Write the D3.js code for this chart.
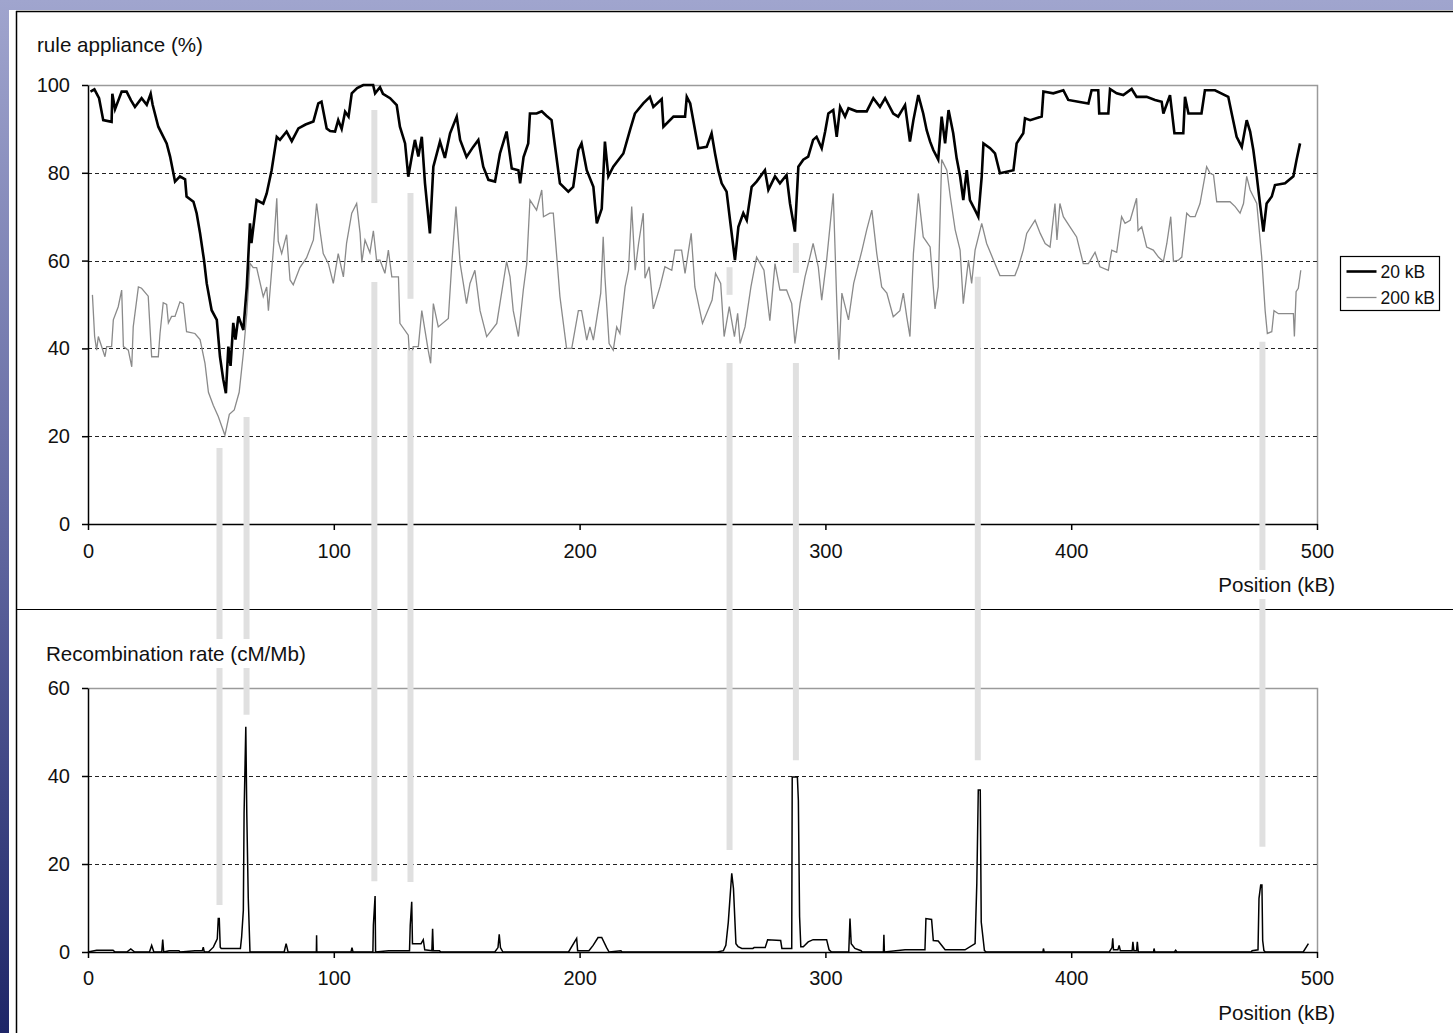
<!DOCTYPE html>
<html>
<head>
<meta charset="utf-8">
<script src="https://cdn.jsdelivr.net/npm/d3@7"></script>
<style>
  body { margin: 0; background: #fff; }
  svg { display: block; }
  text { font-family: "Liberation Sans", Arial, sans-serif; fill: #111; }
</style>
</head>
<body>
<svg id="fig" width="1453" height="1033"></svg>
<script>
// ---- data ----
var ticksX = [0, 100, 200, 300, 400, 500];
var ticksTop = [0, 20, 40, 60, 80, 100];
var ticksBot = [0, 20, 40, 60];
var gridTop = [20, 40, 60, 80];
var gridBot = [20, 40];

// rule appliance, 20 kB window (position kB, %)
var pos20 = [1, 2.6, 4.5, 6.2, 9.6, 9.9, 11, 13.7, 15.7, 17.5, 19.1, 21.8, 23.9, 25.5, 26.3, 28.6, 32, 33.4, 35.4, 37.4, 39.5, 40.1, 42.9, 44.2, 45.6, 47.2, 48.3, 50.3, 52.4, 53.7, 55, 56.1, 57.1, 58, 59.1, 60, 61.2, 63.2, 64.6, 65.9, 66.5, 68.6, 71.3, 72.7, 74.7, 76.8, 78.1, 80.8, 82.9, 85.6, 88.5, 91.7, 93.7, 95, 97.1, 98.5, 100.5, 101.8, 103.2, 104.6, 106, 107.3, 109.5, 112, 116, 116.8, 118.8, 120, 122.9, 125.6, 126.9, 129, 130.3, 131.7, 133, 134.4, 135.8, 137.1, 139.1, 140.5, 143.2, 145.2, 147.3, 150, 151.4, 154, 156.7, 158.8, 160.8, 162.9, 165.6, 167.6, 170.3, 172.4, 175.1, 175.8, 177.2, 179.1, 179.8, 182.5, 184.6, 186.5, 188.6, 189.3, 192, 195.4, 197.4, 199.5, 200.8, 202.9, 205.6, 207, 209, 210.3, 211.7, 213.7, 217.8, 220.5, 222.5, 225.9, 228.6, 230, 233.4, 234.1, 238.2, 242.9, 243.6, 245, 248.3, 251.7, 253.7, 255.1, 256.4, 257.8, 259.8, 261.2, 263.2, 264.6, 266.6, 268, 270, 272, 275.4, 276.8, 279.5, 281.5, 284.2, 285.6, 287.6, 289, 291, 293, 295, 296.4, 298.5, 299.9, 301.2, 303.2, 304.6, 306, 308, 309.4, 312.7, 316.8, 319.5, 322.2, 324.3, 327.6, 329.6, 332.4, 334.4, 335.8, 337.8, 339.8, 341.2, 342.6, 343.9, 345.9, 347.3, 348.7, 350.1, 352, 353.4, 354.8, 356.1, 357.5, 358.8, 360.9, 362.2, 363.6, 364.3, 367, 369, 371, 376.5, 377.8, 380.5, 381.2, 383.3, 388, 388.7, 392.7, 396.8, 398.8, 402.9, 407, 408.3, 411, 411.4, 415.1, 415.8, 418.5, 421.2, 424.6, 426.6, 430.7, 434.1, 436.8, 437.5, 440.2, 442, 445.6, 446.3, 447.7, 453, 454.4, 458.5, 463.9, 465.3, 467.3, 469.4, 471.4, 472.8, 474.1, 475.5, 476.8, 478.2, 479.5, 481.6, 482.9, 487, 490.4, 491.7, 493.1];
var val20 = [98.5, 99, 97, 92, 91.6, 98, 94.5, 98.5, 98.5, 96.5, 95, 97, 95.5, 98, 95.5, 90.5, 86.7, 83.7, 78, 79.2, 78.5, 74.6, 73.4, 70.8, 66.2, 60.1, 54.8, 48.7, 46.5, 38.1, 33, 29.8, 40.4, 36, 45.8, 42, 47.3, 44.2, 54, 68.5, 64, 73.8, 73, 75.3, 80.6, 88.2, 87.5, 89.4, 87.2, 90.1, 91, 91.7, 95.8, 96.2, 90.1, 89.5, 89.4, 92, 90, 93.9, 92.8, 98.1, 99.3, 100, 100, 98.1, 99.5, 98, 97, 95.4, 90.5, 86.7, 79.1, 83.6, 87.5, 83.7, 88.2, 77.6, 66.2, 81.4, 87.1, 83.4, 89, 92.8, 87.5, 83.6, 85.9, 87.5, 81.4, 78.4, 78, 84.4, 89.4, 81, 80.6, 77.6, 83.6, 86.7, 93.5, 93.5, 94, 93, 92, 89, 77.6, 75.7, 76.8, 85.2, 86.7, 80.6, 76.8, 68.5, 71.8, 87.1, 79.2, 81.4, 84.4, 89.7, 93.5, 95.8, 97.3, 95, 96.8, 90.5, 92.8, 92.8, 97.3, 95.8, 85.6, 85.9, 89, 84.4, 80.6, 77.6, 75.7, 69.2, 60.1, 67.7, 70.8, 69.2, 76.8, 78, 80.6, 76.1, 79.2, 77.6, 79.5, 73, 66.6, 81.4, 83, 83.7, 87.5, 88.2, 85.6, 89.4, 93.5, 94.3, 88.2, 95, 92.8, 94.7, 94, 94, 97, 95, 97, 93.5, 92.8, 95.4, 87.1, 92, 97.7, 93.5, 89.7, 87.1, 85.2, 83, 92.8, 86.7, 94.3, 89, 83.3, 79.2, 73.8, 80.6, 73.8, 71.5, 70, 79.2, 86.7, 85.6, 84.4, 79.9, 80.6, 86.7, 89, 92.4, 92, 92.8, 98.5, 98.1, 98.8, 96.6, 96.2, 95.8, 98.8, 98.8, 93.5, 93.5, 99.1, 98.1, 97.7, 99.1, 97.3, 97.3, 96.6, 96.2, 93.5, 97.7, 89, 89, 97.3, 93.5, 93.5, 98.8, 98.8, 97.3, 93.5, 88.2, 85.9, 92, 89.4, 85.2, 79.2, 73, 66.6, 73, 74.6, 77.2, 77.6, 79.2, 83, 86.7];

// rule appliance, 200 kB window (position kB, %)
var pos200 = [1.8, 2.7, 3.5, 4.2, 6.9, 7.6, 9.6, 10.3, 12.3, 13.7, 14.4, 16.4, 17.8, 18.4, 20.5, 21.8, 24.5, 25.9, 28.6, 29.3, 30.6, 32, 32.7, 34, 35.4, 37.4, 38.8, 40.1, 43.5, 45.6, 47.6, 49, 51, 53, 55.7, 57.5, 59.5, 61.5, 63.2, 64.6, 65.9, 67.2, 68.6, 71.3, 72.7, 73.4, 75.4, 76.8, 77.4, 78.8, 80.8, 82.2, 83.5, 86.2, 88.9, 91.7, 93, 94.4, 95.7, 97.8, 99.8, 101.8, 103.9, 105.2, 107.3, 109.3, 110.7, 111.4, 112.7, 114.7, 116.1, 117.4, 118.8, 120.8, 122.2, 123.6, 126.3, 126.9, 130.3, 131, 132.3, 134.4, 135.8, 137.1, 138.4, 139.4, 140.5, 142.5, 146.6, 148, 149.7, 151.4, 152.7, 154, 155.4, 157.4, 159.5, 162.2, 166.3, 170.3, 171.7, 173, 175.1, 177.1, 178.5, 179.8, 182.5, 184.6, 185.3, 187.9, 189.3, 192, 194.7, 196.8, 199.5, 200.8, 202.9, 204.2, 205.6, 208.6, 209.6, 210.3, 212, 213.7, 215.1, 216.4, 218.5, 219.9, 221.2, 222.6, 224, 225.9, 226.6, 228.3, 230, 232.7, 234.7, 237.5, 238.8, 241.5, 242.9, 245.4, 246.9, 250, 253.9, 255.3, 257.4, 258.8, 260.9, 263, 264.3, 265.3, 267.3, 269.7, 272, 275, 277.4, 279.5, 281.5, 284.2, 286.3, 287.6, 289.7, 291.7, 293.7, 295, 297.1, 298.5, 300.5, 303.2, 304.6, 305.5, 306.7, 309.4, 311.5, 314.9, 316.8, 318.9, 320.9, 322.9, 325, 327.6, 330.3, 331.7, 333.1, 334.4, 335.8, 337.8, 339.8, 342.6, 344.6, 345.9, 347.3, 349.4, 350.8, 352.8, 354.8, 356.1, 358.2, 359.5, 360.9, 363.6, 365.6, 368.4, 371, 377.1, 378.5, 380.5, 381.9, 385.3, 387.4, 389.4, 391.4, 393.4, 394.2, 395.4, 396.8, 399.5, 402.2, 404.9, 407, 409.7, 411.7, 415.1, 416.5, 418.5, 420.5, 421.9, 424, 426.6, 427.2, 428.7, 430.7, 433.4, 435.5, 437.5, 438.9, 440.5, 441.6, 443.6, 445, 447, 448.4, 450.4, 452.4, 455.1, 456.5, 457.9, 459.2, 464.6, 466.7, 468.7, 470.1, 471.4, 472.8, 474.1, 475.5, 477.5, 478.9, 479.8, 481.6, 482.5, 484.3, 490.4, 490.8, 491.5, 492.4, 493.4];
var val200 = [52.2, 42.7, 39.6, 42.7, 38.1, 40.4, 40.4, 46.5, 49.5, 53.3, 40.4, 39.6, 35.8, 44.9, 54, 53.7, 51.9, 38.1, 38.1, 43.4, 50.4, 50, 45.8, 47.3, 47.3, 50.6, 50.2, 43.8, 43.4, 42, 36.6, 30, 27, 24.5, 20.2, 25, 26, 30, 38.9, 48, 59.4, 58.4, 58.4, 51.8, 54, 48.6, 62.4, 74.2, 64.4, 61.6, 65.9, 55.6, 54.5, 58.4, 60.6, 64.7, 73, 66.8, 61.6, 59.3, 54.8, 61.6, 56.3, 64, 70.8, 73, 66.2, 59.6, 64.7, 61.8, 66.8, 60.1, 60.1, 57.1, 62.4, 56.3, 56.3, 45.7, 43, 36.6, 40.4, 40.4, 48.6, 44.1, 39.6, 36.6, 50.2, 44.9, 46.8, 59.3, 72.3, 59.3, 54.8, 50.2, 54.8, 57.8, 48.6, 42.7, 45.7, 59.8, 56.3, 48.6, 42.7, 53.3, 59.3, 73.8, 71.5, 76.1, 70, 70.8, 70.8, 51.8, 40, 40, 48.6, 48.6, 41.9, 44.9, 41.9, 52.6, 65.4, 56.3, 41.1, 39.6, 44.9, 43.4, 54, 57.8, 72.3, 57.8, 63.9, 70.8, 56, 58.6, 49, 54, 58.6, 57.8, 62.4, 62.4, 57.1, 66.2, 54, 45.7, 51, 57.1, 54.8, 42.7, 49.5, 42.7, 48, 41.1, 44.9, 54, 60.8, 57.8, 46.3, 59.3, 53.3, 53.3, 50.2, 41.1, 50.2, 56.3, 60.8, 63.9, 58.6, 51, 60.1, 75.3, 51, 37.4, 52.6, 46.5, 54.8, 62.4, 67, 71.5, 61.6, 54, 52.6, 47.2, 48.6, 52.6, 47.2, 42.7, 61.6, 75.3, 65.4, 63.1, 49, 54, 83, 80.6, 74.6, 67, 62.4, 50.2, 60.1, 54.8, 62.4, 68.5, 63.9, 60.1, 56.6, 56.6, 58.6, 62.4, 66.2, 69.2, 66.2, 63.9, 63.1, 73, 64.7, 73, 70, 67.7, 65.4, 59.3, 59.3, 61.9, 58.6, 57.8, 62.4, 61.9, 70, 68.5, 69.2, 74.2, 66.8, 67.7, 63.1, 62.4, 60.8, 59.8, 63.9, 70, 59.8, 60.1, 60.8, 70.8, 70, 70, 73, 81.4, 79.9, 79.5, 73.4, 73.4, 72.3, 70.8, 73, 79.2, 76.1, 74.6, 73, 60.8, 48.6, 43.4, 43.8, 48.6, 47.9, 47.9, 42.7, 52.9, 53.7, 57.8];

// recombination rate (position kB, cM/Mb)
var posRec = [0, 3.5, 10.2, 11, 15.8, 17.4, 19, 25, 25.9, 26.8, 30, 30.4, 30.8, 33, 37, 37.5, 43.5, 46.5, 46.9, 47.3, 49, 51, 52.6, 53, 53.4, 53.8, 54.2, 62, 62.5, 63.2, 63.5, 64.2, 64.6, 65.2, 65.9, 79.8, 80.6, 81.4, 92.9, 93, 93.1, 107, 107.4, 107.8, 115.9, 116.1, 116.8, 117, 122.3, 130.8, 131.1, 131.7, 132, 135.5, 136.4, 137, 139.9, 140.2, 140.5, 143, 143.5, 165.5, 166.8, 167.3, 167.8, 168.8, 195.5, 198.8, 199.2, 203.8, 205.5, 207.5, 209, 211, 212, 216.8, 217.3, 256, 258.5, 259.5, 260.5, 261.9, 262.6, 263.6, 264.5, 266, 270.5, 271, 275.5, 276.5, 281.8, 282.3, 286.3, 286.5, 288.6, 289, 289.5, 290, 291, 293, 295, 300.5, 301.5, 302.5, 309.5, 310, 310.5, 312, 314.5, 315, 323.6, 323.8, 324, 332.4, 340.5, 340.9, 343.2, 343.9, 345.9, 348.7, 356.8, 360.9, 361.6, 362.2, 363, 363.4, 364.7, 365.5, 388.5, 388.7, 389, 415.5, 416.6, 416.9, 417.2, 419, 419.5, 420, 424.8, 425.1, 425.5, 426.6, 426.9, 427.3, 433.5, 433.7, 434, 442, 442.5, 443, 473.2, 473.6, 476, 476.4, 477.1, 477.6, 477.9, 478.4, 479, 494.4, 496.5];
var valRec = [0, 0.4, 0.4, 0, 0, 0.7, 0, 0, 1.5, 0, 0, 2.8, 0, 0.3, 0.3, 0, 0.3, 0.3, 1.1, 0, 0, 1.1, 3, 7.6, 7.6, 1.1, 0.8, 0.8, 3.4, 9.5, 31.5, 51.2, 31.5, 12.2, 0, 0, 1.9, 0, 0, 3.8, 0, 0, 1, 0, 0, 6.1, 12.7, 0, 0.3, 0.3, 6.1, 11.4, 1.9, 1.9, 2.8, 0.5, 0.3, 5.3, 0.3, 0.3, 0, 0, 1, 4, 1, 0, 0, 3.1, 0.3, 0.3, 1.5, 3.3, 3.3, 1, 0, 0.3, 0, 0, 0.3, 1.5, 6.8, 17.9, 14.4, 1.9, 1.2, 0.8, 0.8, 1, 1, 2.8, 2.6, 0.8, 0.8, 39.8, 39.8, 34.5, 8, 1.2, 1.2, 2.3, 2.8, 2.8, 0.5, 0, 0, 7.6, 1.9, 0.8, 0.3, 0, 0, 3.9, 0, 0.5, 0.5, 7.6, 7.4, 2.6, 2.5, 0.5, 0.5, 1.9, 15.6, 36.8, 36.8, 6.8, 0.3, 0, 0, 0.8, 0, 0, 1, 3.1, 0.5, 0.5, 1.5, 0.3, 0.3, 2.3, 0.3, 0.3, 2.3, 0, 0, 0.8, 0, 0, 0.4, 0, 0, 0.3, 0.5, 12.2, 15.2, 15.2, 2.6, 0.3, 0, 0, 1.9];

// pale vertical markers linking dips to hot spots
var markerPos = [53.5, 64.5, 116.5, 131.2, 261, 288, 362, 477.8];
var markerTop = [17.3, 24.4, 94.3, 75.4, 58.5, 64, 56.3, 41.5];      // start, % scale
var markerGapFrom = [null, null, 73.1, 51.3, 52.2, 57.2, null, null];
var markerGapTo = [null, null, 55.1, 39.6, 36.7, 36.7, null, null];
var markerEnd = [10.7, 53.9, 16.1, 15.9, 23.2, 43.6, 43.6, 23.9];      // end, cM/Mb scale

var legendNames = ["20 kB", "200 kB"];

function makeSVG() {
    var svg = d3.select("#fig");
    var W = 1453, H = 1033;

    // slide background + picture frame
    var grad = svg.append("defs").append("linearGradient")
                  .attr("id", "bg").attr("x1", 0).attr("y1", 0).attr("x2", 0).attr("y2", 1);
    grad.append("stop").attr("offset", "0%").attr("stop-color", "#a0a5ce");
    grad.append("stop").attr("offset", "55%").attr("stop-color", "#5c629c");
    grad.append("stop").attr("offset", "100%").attr("stop-color", "#1e2668");
    svg.append("rect").attr("width", W).attr("height", H).attr("fill", "url(#bg)");
    svg.append("rect").attr("x", 9).attr("y", 10).attr("width", W).attr("height", H).attr("fill", "#fff");
    svg.append("line").attr("x1", 16.5).attr("x2", 16.5).attr("y1", 11).attr("y2", H)
       .attr("stroke", "#000").attr("stroke-width", 1.5);
    svg.append("line").attr("x1", 16).attr("x2", W).attr("y1", 11.5).attr("y2", 11.5)
       .attr("stroke", "#000").attr("stroke-width", 1.5);
    svg.append("line").attr("x1", 16).attr("x2", W).attr("y1", 609.5).attr("y2", 609.5)
       .attr("stroke", "#000").attr("stroke-width", 1.2);

    var xSc = d3.scaleLinear().domain([0, 500]).range([88, 1317]);
    var yTop = d3.scaleLinear().domain([0, 100]).range([524, 85]);
    var yBot = d3.scaleLinear().domain([0, 60]).range([952, 688]);

    function panel(ySc, ticks, grid, padX) {
        var g = svg.append("g");
        var y0 = ySc.range()[0], y1 = ySc.range()[1];
        // grey frame top + right
        g.append("path")
         .attr("d", "M" + xSc(0) + "," + (y1 + 0.5) + "H" + (xSc(500) + 0.5) + "V" + y0)
         .attr("fill", "none").attr("stroke", "#9a9a9a").attr("stroke-width", 1.5);
        // dashed gridlines
        g.selectAll("line.grid").data(grid).enter().append("line")
         .attr("class", "grid")
         .attr("x1", xSc(0)).attr("x2", xSc(500))
         .attr("y1", d => Math.round(ySc(d)) + 0.5).attr("y2", d => Math.round(ySc(d)) + 0.5)
         .attr("stroke", "#222").attr("stroke-width", 1.1).attr("stroke-dasharray", "4,3");

        var ax = g.append("g").attr("transform", "translate(" + xSc(0) + ",0)")
                  .call(d3.axisLeft(ySc).tickValues(ticks).tickSize(6).tickSizeOuter(0).tickPadding(12));
        var bx = g.append("g").attr("transform", "translate(0," + y0 + ")")
                  .call(d3.axisBottom(xSc).tickValues(ticksX).tickSize(6).tickSizeOuter(0).tickPadding(padX));
        [ax, bx].forEach(function (a) {
            a.selectAll("path, line").attr("stroke", "#000").attr("stroke-width", 1.5);
            a.selectAll("text").attr("font-size", 20).attr("fill", "#111")
             .style("font-family", "'Liberation Sans', Arial, sans-serif");
        });
        return g;
    }

    panel(yTop, ticksTop, gridTop, 14);
    panel(yBot, ticksBot, gridBot, 13);

    // series
    var d20 = pos20.map((p, i) => [p, val20[i]]);
    var d200 = pos200.map((p, i) => [p, val200[i]]);
    var dRec = posRec.map((p, i) => [p, valRec[i]]);

    var lnTop = d3.line().x(d => xSc(d[0])).y(d => yTop(d[1]));
    var lnBot = d3.line().x(d => xSc(d[0])).y(d => yBot(d[1]));

    svg.append("path").attr("d", lnTop(d200))
       .attr("fill", "none").attr("stroke", "#8a8a8a").attr("stroke-width", 1.3);
    svg.append("path").attr("d", lnTop(d20))
       .attr("fill", "none").attr("stroke", "#000").attr("stroke-width", 2.6)
       .attr("stroke-linejoin", "miter");
    svg.append("path").attr("d", lnBot(dRec))
       .attr("fill", "none").attr("stroke", "#000").attr("stroke-width", 1.5);

    // pale markers
    var segs = [];
    markerPos.forEach(function (p, i) {
        var yA = yTop(markerTop[i]), yB = yBot(markerEnd[i]);
        if (markerGapFrom[i] != null) {
            segs.push([p, yA, yTop(markerGapFrom[i])]);
            segs.push([p, yTop(markerGapTo[i]), yB]);
        } else {
            segs.push([p, yA, yB]);
        }
    });
    svg.selectAll("line.mark").data(segs).enter().append("line")
       .attr("class", "mark")
       .attr("x1", d => xSc(d[0])).attr("x2", d => xSc(d[0]))
       .attr("y1", d => d[1]).attr("y2", d => d[2])
       .attr("stroke", "#e0e0e0").attr("stroke-width", 6);

    // titles with white boxes (they cut the markers)
    function label(txt, x, y, anchor) {
        var t = svg.append("text").attr("x", x).attr("y", y).attr("text-anchor", anchor)
                   .attr("font-size", 20.6).text(txt);
        var b = t.node().getBBox();
        svg.insert("rect", function () { return t.node(); })
           .attr("x", b.x - 4).attr("y", b.y - 3).attr("width", b.width + 8).attr("height", b.height + 6)
           .attr("fill", "#fff");
    }
    label("rule appliance (%)", 37, 52, "start");
    label("Position (kB)", 1335, 592, "end");
    label("Recombination rate (cM/Mb)", 46, 661, "start");
    label("Position (kB)", 1335, 1020, "end");

    // legend
    var lg = svg.append("g").attr("transform", "translate(1340.5,256.5)");
    lg.append("rect").attr("width", 99).attr("height", 54)
      .attr("fill", "#fff").attr("stroke", "#000").attr("stroke-width", 1.2);
    var items = lg.selectAll("g").data(legendNames).enter().append("g")
                  .attr("transform", (d, i) => "translate(0," + (15 + i * 26) + ")");
    items.append("line").attr("x1", 6).attr("x2", 36)
         .attr("stroke", (d, i) => i ? "#8a8a8a" : "#000")
         .attr("stroke-width", (d, i) => i ? 1.3 : 2.6);
    items.append("text").attr("x", 40).attr("y", 6).attr("font-size", 17.5).text(d => d);
}
makeSVG();
</script>
</body>
</html>
